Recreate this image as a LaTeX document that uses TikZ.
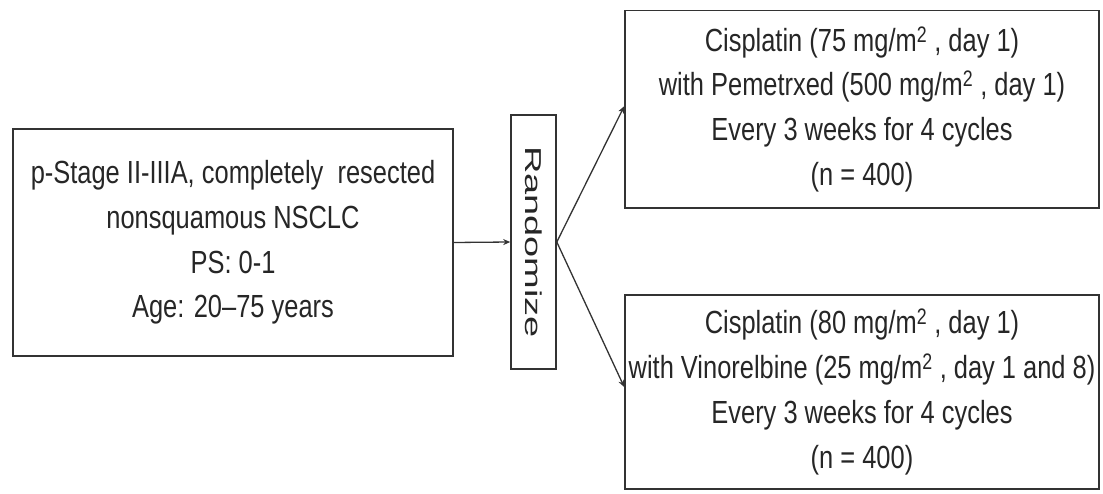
\documentclass[tikz,border=0pt]{standalone}
\usepackage{fontspec}
\setmainfont{Liberation Sans}[FakeStretch=0.795]
\newfontfamily\rotfont{Liberation Sans}[FakeStretch=1.65]
\usetikzlibrary{arrows.meta}
\tikzset{
  box/.style={draw=black!80, line width=1.6pt, inner sep=0pt, align=center,
    text=black!85, font=\fontsize{32}{44.7}\selectfont},
  rtext/.style={inner sep=0pt, text=black!85, font=\rotfont\fontsize{23}{28}\selectfont, rotate=-90},
  arr/.style={draw=black!80, line width=1.3pt, -{Stealth[length=7pt,width=6pt]}}
}
\begin{document}
\begin{tikzpicture}[x=1pt,y=-1pt]
\useasboundingbox[fill=white] (0,0) rectangle (1103,494);
\node[box, minimum width=440pt, minimum height=227pt] (L) at (233,242.5)
  {p-Stage II-IIIA, completely\ \ resected\\ nonsquamous NSCLC\\ PS: 0-1\\ Age: 20--75 years};
\node[box, minimum width=45pt, minimum height=254pt] (R) at (533.5,242) {};
\node[rtext] (Rt) at (R.center) {Randomize};
\node[box, minimum width=474pt, minimum height=197.5pt] (T) at (862,109.25)
  {Cisplatin (75 mg/m\textsuperscript{2} , day 1)\\ with Pemetrxed (500 mg/m\textsuperscript{2} , day 1)\\ Every 3 weeks for 4 cycles\\ (n = 400)};
\node[box, minimum width=474pt, minimum height=194pt] (B) at (862,392)
  {Cisplatin (80 mg/m\textsuperscript{2} , day 1)\\ with Vinorelbine (25 mg/m\textsuperscript{2} , day 1 and 8)\\ Every 3 weeks for 4 cycles\\ (n = 400)};
\draw[arr] (L.east) -- (R.west);
\draw[arr] (R.east) -- ([yshift=3pt]T.west);
\draw[arr] (R.east) -- ([yshift=5pt]B.west);
\end{tikzpicture}
\end{document}
